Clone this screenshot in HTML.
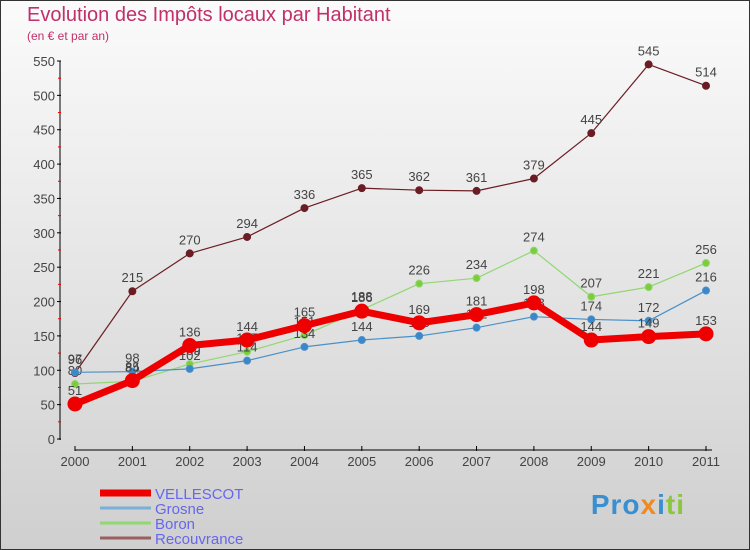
<!DOCTYPE html>
<html><head><meta charset="utf-8"><style>
body{margin:0}
#c{width:750px;height:550px;position:relative;box-sizing:border-box;border:1px solid #333;background:linear-gradient(#fbfbfb,#cfcfcf);font-family:"Liberation Sans",sans-serif;overflow:hidden}
.t{position:absolute;left:26px;top:3px;font-size:20px;color:#c0306a}
.s{position:absolute;left:26px;top:28px;font-size:12px;color:#c0306a}
</style></head><body>
<div id="c">
<div class="t">Evolution des Impôts locaux par Habitant</div>
<div class="s">(en € et par an)</div>
<svg id="g" width="750" height="550" style="position:absolute;left:-1px;top:-1px"></svg>
<div style="position:absolute;right:64px;top:488px;font-size:28px;font-weight:bold;letter-spacing:1px"><span style="color:#3a8fd0">Pro</span><span style="color:#f08a20">x</span><span style="color:#3a8fd0">i</span><span style="color:#8cc63f">ti</span></div>
</div>
<script>
const years=["2000","2001","2002","2003","2004","2005","2006","2007","2008","2009","2010","2011"];
const yTicks=[0,50,100,150,200,250,300,350,400,450,500,550];
const vellescot=[51,85,136,144,165,186,169,181,198,144,149,153];
const grosne=[97,98,102,114,134,144,150,162,178,174,172,216];
const boron=[80,84,109,127,151,188,226,234,274,207,221,256];
const recouvrance=[96,215,270,294,336,365,362,361,379,445,545,514];
const NS="http://www.w3.org/2000/svg",svg=document.getElementById('g');
const X=i=>75+i*(631/11), Y=v=>439-v*(378/550);
function mk(t,a,p){const e=document.createElementNS(NS,t);for(const k in a)e.setAttribute(k,a[k]);(p||svg).appendChild(e);return e;}
let ax=mk('line',{x1:60,y1:61,x2:60,y2:440,stroke:'#000'});


yTicks.forEach(v=>{mk('line',{x1:57,x2:61,y1:Y(v),y2:Y(v),stroke:'#000'});
 if(v<550)mk('line',{x1:58,x2:61,y1:Y(v+25),y2:Y(v+25),stroke:'#e00'});
 const t=mk('text',{x:55,y:Y(v)+5,'text-anchor':'end','font-size':13,fill:'#444'});t.textContent=v;
 
 });
let xa=mk('line',{x1:75,y1:450,x2:712,y2:450,stroke:'#000'});


years.forEach((y,i)=>{mk('line',{x1:X(i),x2:X(i),y1:446,y2:451,stroke:'#000'});
 const t=mk('text',{x:X(i),y:466,'text-anchor':'middle','font-size':13,fill:'#444'});t.textContent=y;
 
 });
function series(d,col,w,r,fill,name){
 const g=mk('g',{});
 
 
 mk('polyline',{points:d.map((v,i)=>X(i)+','+Y(v)).join(' '),fill:'none',stroke:col,'stroke-width':w,'stroke-linejoin':'round'},g);
 d.forEach((v,i)=>{const c=mk('circle',{cx:X(i),cy:Y(v),r:r,fill:fill,stroke:col,'stroke-width':1},g);
  
  
  const t=mk('text',{x:X(i),y:Y(v)-9,'text-anchor':'middle','font-size':13,fill:'#444'},g);t.textContent=v;
  
  });
}
series(recouvrance,'#6b1d24',1.2,3.5,'#6b1d24','recouvrance');
series(boron,'#90d870',1.2,3.5,'#7ccc3c','boron');
series(grosne,'#4a90c8',1.2,3.5,'#3a88c8','grosne');
series(vellescot,'#ee0000',7,7,'#ee0000','vellescot');
const names=["VELLESCOT","Grosne","Boron","Recouvrance"],cols=['#ee0000','#7ab0d8','#90d870','#9a6060'],ws=[7,3,3,3];
names.forEach((n,i)=>{const y=493+i*15;
 const l=mk('line',{x1:100,x2:151,y1:y,y2:y,stroke:cols[i],'stroke-width':ws[i]});
 
 
 const t=mk('text',{x:155,y:y+6,'font-size':15,fill:'#6666ee'});t.textContent=n;
 
 });
</script>
</body></html>
